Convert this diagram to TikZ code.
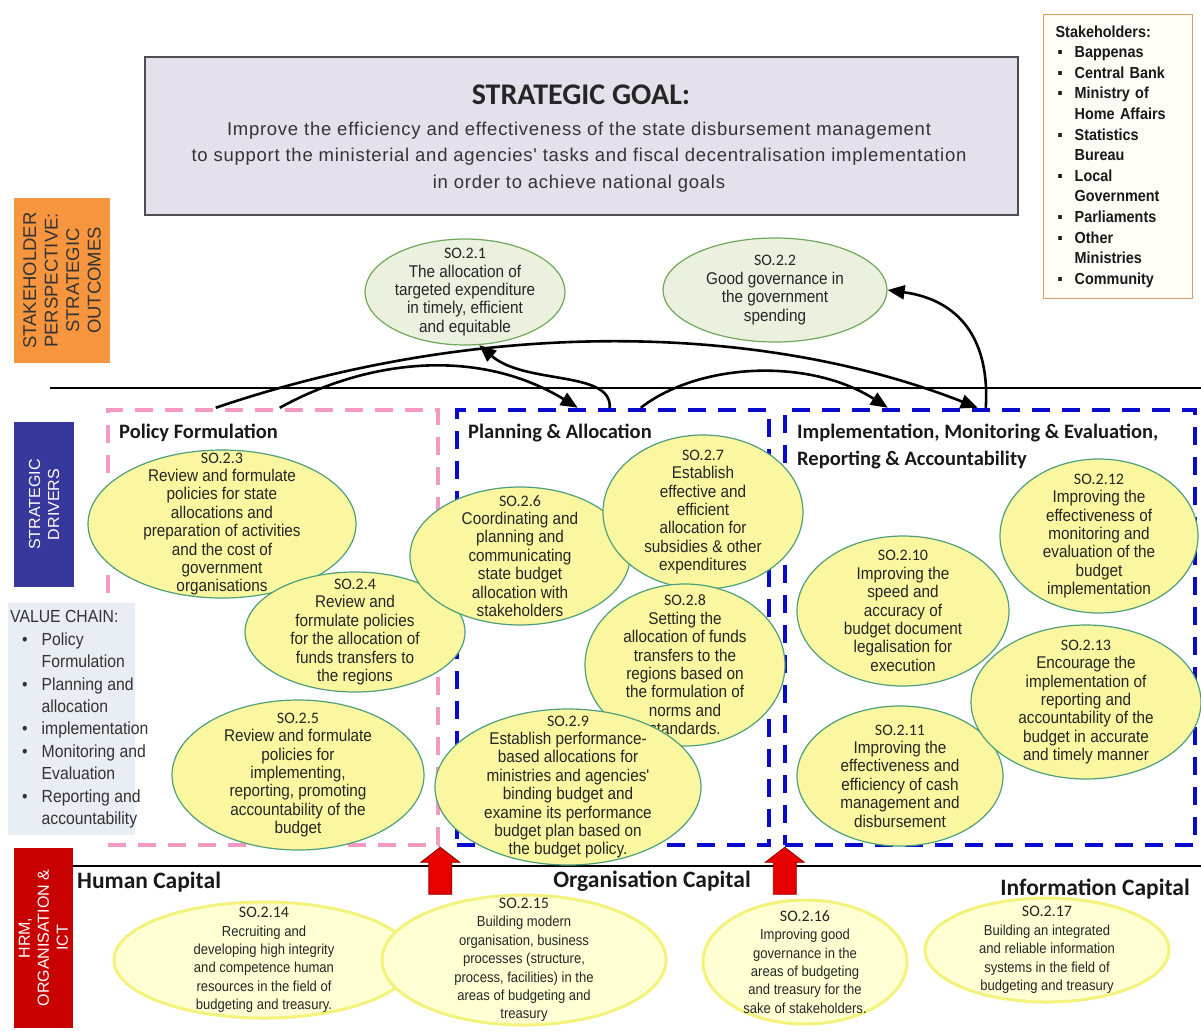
\documentclass[tikz,border=0pt]{standalone}
\usepackage{fontspec}
\setmainfont{Liberation Sans}
\newfontfamily\narrowfont[FakeStretch=0.9]{Liberation Sans}
\newfontfamily\goalfont[LetterSpace=4]{Liberation Sans}
\newfontfamily\calfont{Carlito}
\usetikzlibrary{shapes.geometric,arrows.meta}

\definecolor{goalfill}{HTML}{E5E0EC}
\definecolor{goalline}{HTML}{4D4D4D}
\definecolor{stakefill}{HTML}{FFFDF6}
\definecolor{stakeline}{HTML}{D9A066}
\definecolor{outcomeorange}{HTML}{F7963F}
\definecolor{driverblue}{HTML}{38389C}
\definecolor{hrmred}{HTML}{C80000}
\definecolor{chainfill}{HTML}{E9EDF4}
\definecolor{pfpink}{HTML}{F49AC2}
\definecolor{dashblue}{HTML}{0A0ACC}
\definecolor{topfill}{HTML}{EBF1DE}
\definecolor{topline}{HTML}{6FA85A}
\definecolor{midfill}{HTML}{FAF7A0}
\definecolor{midline}{HTML}{4E9F7A}
\definecolor{lowfill}{HTML}{FFFFD4}
\definecolor{lowline}{HTML}{F3F37C}
\definecolor{arrowred}{HTML}{E60000}

\newcommand{\solab}[1]{{\calfont\fontsize{16}{17}\selectfont #1}}

\tikzset{
  soell/.style={ellipse, draw, line width=1.2pt, inner sep=-30pt, align=center,
    text=black!85, font=\narrowfont\fontsize{17}{18.4}\selectfont},
  topell/.style={soell, fill=topfill, draw=topline},
  midell/.style={soell, fill=midfill, draw=midline},
  lowell/.style={soell, fill=lowfill, draw=lowline, line width=3pt,
    font=\narrowfont\fontsize{14.5}{18.4}\selectfont},
  dashbox/.style={line width=4.5pt, dash pattern=on 18pt off 12pt, inner sep=0pt},
  sidebar/.style={rotate=90, align=center, inner sep=0pt,
    font=\fontsize{16}{19}\selectfont},
  heading/.style={anchor=west, inner sep=0pt, text=black!90,
    font=\calfont\bfseries\fontsize{20.5}{22}\selectfont},
  capital/.style={inner sep=0pt, text=black!90,
    font=\calfont\bfseries\fontsize{23.5}{26}\selectfont},
  conn/.style={line width=2.6pt, -{Triangle[length=17pt,width=14pt]}},
  blockarrow/.style={fill=arrowred, draw=red!55!black, line width=0.8pt},
  rule/.style={line width=1.2pt}
}

\begin{document}
\begin{tikzpicture}[x=1pt, y=-1pt]
\useasboundingbox (0,0) rectangle (1201,1034);

% goal and stakeholders
\node[draw=goalline, fill=goalfill, line width=1.5pt, minimum width=873pt, minimum height=158pt] (goal) at (581.5,136) {};
\node[inner sep=0pt, font=\calfont\bfseries\fontsize{30}{32}\selectfont, text=black!85] (goalhead) at (581,95) {STRATEGIC GOAL:};
\node[inner sep=0pt, align=center, text=black!80, font=\goalfont\fontsize{18.5}{26.5}\selectfont] (goalbody) at (579,157)
  {Improve the efficiency and effectiveness of the state disbursement management\\
   to support the ministerial and agencies' tasks and fiscal decentralisation implementation\\
   in order to achieve national goals};
\node[draw=stakeline, fill=stakefill, line width=1.2pt, anchor=north west, minimum width=149pt, minimum height=284pt,
  text width=125pt, inner xsep=12pt, align=left, text=black!90, font=\narrowfont\bfseries\fontsize{16}{20.6}\selectfont] (stake) at (1043,14)
  {\begin{tabular}{@{\hspace{2pt}}l@{\hspace{12pt}}l@{}}
   \multicolumn{2}{@{}l@{}}{Stakeholders:}\\
   ▪ & Bappenas\\
   ▪ & Central Bank\\
   ▪ & Ministry of\\
     & Home Affairs\\
   ▪ & Statistics\\
     & Bureau\\
   ▪ & Local\\
     & Government\\
   ▪ & Parliaments\\
   ▪ & Other\\
     & Ministries\\
   ▪ & Community
   \end{tabular}};

% side bars
\node[sidebar, fill=outcomeorange, text=black!80, minimum width=165pt, minimum height=96pt,
  font=\fontsize{18.5}{21.5}\selectfont] (outcomes) at (62,280.5)
  {STAKEHOLDER\\PERSPECTIVE:\\STRATEGIC\\OUTCOMES};
\node[sidebar, fill=driverblue, text=white, minimum width=165pt, minimum height=60pt] (drivers) at (44,504.5)
  {STRATEGIC\\DRIVERS};
\node[sidebar, fill=hrmred, text=white, minimum width=180pt, minimum height=59pt] (hrm) at (43.5,938)
  {HRM,\\ORGANISATION \&\\ICT};

\draw[rule] (50,388) -- (1201,388);
\draw[rule] (73,866) -- (1201,866);

% value chain boxes
\node[dashbox, draw=pfpink, minimum width=330pt, minimum height=435pt] (pf) at (273,627.5) {};
\node[dashbox, draw=dashblue, minimum width=312pt, minimum height=435pt] (pa) at (613,627.5) {};
\node[dashbox, draw=dashblue, minimum width=410pt, minimum height=435pt] (im) at (990,627.5) {};
\node[heading] (pftitle) at (119,433) {Policy Formulation};
\node[heading] (patitle) at (468,433) {Planning \& Allocation};
\node[heading] (imtitle) at (797,433) {Implementation, Monitoring \& Evaluation,};
\node[heading] (imtitle2) at (797,460) {Reporting \& Accountability};

\node[fill=chainfill, minimum width=127pt, minimum height=232pt, inner sep=0pt] (chain) at (71.5,719) {};
\node[anchor=north west, inner sep=0pt, align=left, text=black!80, font=\narrowfont\fontsize{17.5}{22.4}\selectfont] (chaintext) at (10,607)
  {\begin{tabular}{@{\hspace{12pt}}l@{\hspace{14pt}}l@{}}
   \multicolumn{2}{@{}l@{}}{VALUE CHAIN:}\\
   • & Policy\\
     & Formulation\\
   • & Planning and\\
     & allocation\\
   • & implementation\\
   • & Monitoring and\\
     & Evaluation\\
   • & Reporting and\\
     & accountability
   \end{tabular}};

% outcomes
\node[topell, minimum width=200pt, minimum height=106pt] (so21) at (465,292)
  {\solab{SO.2.1}\\The allocation of\\targeted expenditure\\in timely, efficient\\and equitable};
\node[topell, minimum width=224pt, minimum height=104pt] (so22) at (775,290)
  {\solab{SO.2.2}\\Good governance in\\the government\\spending};

% drivers
\node[midell, minimum width=268pt, minimum height=148pt] (so23) at (222,524)
  {\solab{SO.2.3}\\Review and formulate\\policies for state\\allocations and\\preparation of activities\\and the cost of\\government\\organisations};
\node[midell, minimum width=220pt, minimum height=120pt] (so24) at (355,632)
  {\solab{SO.2.4}\\Review and\\formulate policies\\for the allocation of\\funds transfers to\\the regions};
\node[midell, minimum width=252pt, minimum height=150pt] (so25) at (298,775)
  {\solab{SO.2.5}\\Review and formulate\\policies for\\implementing,\\reporting, promoting\\accountability of the\\budget};
\node[midell, minimum width=220pt, minimum height=138pt] (so26) at (520,556)
  {\solab{SO.2.6}\\Coordinating and\\planning and\\communicating\\state budget\\allocation with\\stakeholders};
\node[midell, minimum width=200pt, minimum height=154pt] (so27) at (703,512)
  {\solab{SO.2.7}\\Establish\\effective and\\efficient\\allocation for\\subsidies \& other\\expenditures};
\node[midell, minimum width=200pt, minimum height=162pt] (so28) at (685,665)
  {\solab{SO.2.8}\\Setting the\\allocation of funds\\transfers to the\\regions based on\\the formulation of\\norms and\\standards.};
\node[midell, minimum width=266pt, minimum height=156pt] (so29) at (568,787)
  {\solab{SO.2.9}\\Establish performance-\\based allocations for\\ministries and agencies'\\binding budget and\\examine its performance\\budget plan based on\\the budget policy.};
\node[midell, minimum width=212pt, minimum height=150pt] (so210) at (903,611)
  {\solab{SO.2.10}\\Improving the\\speed and\\accuracy of\\budget document\\legalisation for\\execution};
\node[midell, minimum width=206pt, minimum height=140pt] (so211) at (900,776)
  {\solab{SO.2.11}\\Improving the\\effectiveness and\\efficiency of cash\\management and\\disbursement};
\node[midell, minimum width=198pt, minimum height=154pt] (so212) at (1099,536)
  {\solab{SO.2.12}\\Improving the\\effectiveness of\\monitoring and\\evaluation of the\\budget\\implementation};
\node[midell, minimum width=230pt, minimum height=154pt] (so213) at (1086,702)
  {\solab{SO.2.13}\\Encourage the\\implementation of\\reporting and\\accountability of the\\budget in accurate\\and timely manner};

% capitals
\node[capital, anchor=west] (human) at (77,882) {Human Capital};
\node[capital] (organisation) at (652,881) {Organisation Capital};
\node[capital, anchor=east] (information) at (1190,889) {Information Capital};
\node[lowell, minimum width=300pt, minimum height=116pt] (so214) at (264,960)
  {\solab{SO.2.14}\\Recruiting and\\developing high integrity\\and competence human\\resources in the field of\\budgeting and treasury.};
\node[lowell, minimum width=284pt, minimum height=130pt] (so215) at (524,960)
  {\solab{SO.2.15}\\Building modern\\organisation, business\\processes (structure,\\process, facilities) in the\\areas of budgeting and\\treasury};
\node[lowell, minimum width=204pt, minimum height=124pt] (so216) at (805,962)
  {\solab{SO.2.16}\\Improving good\\governance in the\\areas of budgeting\\and treasury for the\\sake of stakeholders.};
\node[lowell, minimum width=244pt, minimum height=104pt] (so217) at (1047,950)
  {\solab{SO.2.17}\\Building an integrated\\and reliable information\\systems in the field of\\budgeting and treasury};

% up arrows
\draw[blockarrow] (pf.south east) -- ++(19.5,15) -- ++(-8,0) -- ++(0,32) -- ++(-23,0) -- ++(0,-32) -- ++(-8,0) -- cycle;
\draw[blockarrow] ([xshift=2pt]im.south west) -- ++(19.5,15) -- ++(-8,0) -- ++(0,32) -- ++(-23,0) -- ++(0,-32) -- ++(-8,0) -- cycle;

% links
\draw[conn] ([xshift=110pt]pf.north west) .. controls (480,318) and (760,322) .. ([xshift=195pt]im.north west);
\draw[conn] ([xshift=174pt]pf.north west) .. controls (370,358) and (480,348) .. ([xshift=123pt]pa.north west);
\draw[conn] ([xshift=155pt]pa.north west) .. controls (612,370) and (525,385) .. (so21.-75);
\draw[conn] ([xshift=186pt]pa.north west) .. controls (700,362) and (810,358) .. ([xshift=105pt]im.north west);
\draw[conn] ([xshift=203pt]im.north west) .. controls (990,340) and (960,300) .. (so22.east);
\end{tikzpicture}
\end{document}
